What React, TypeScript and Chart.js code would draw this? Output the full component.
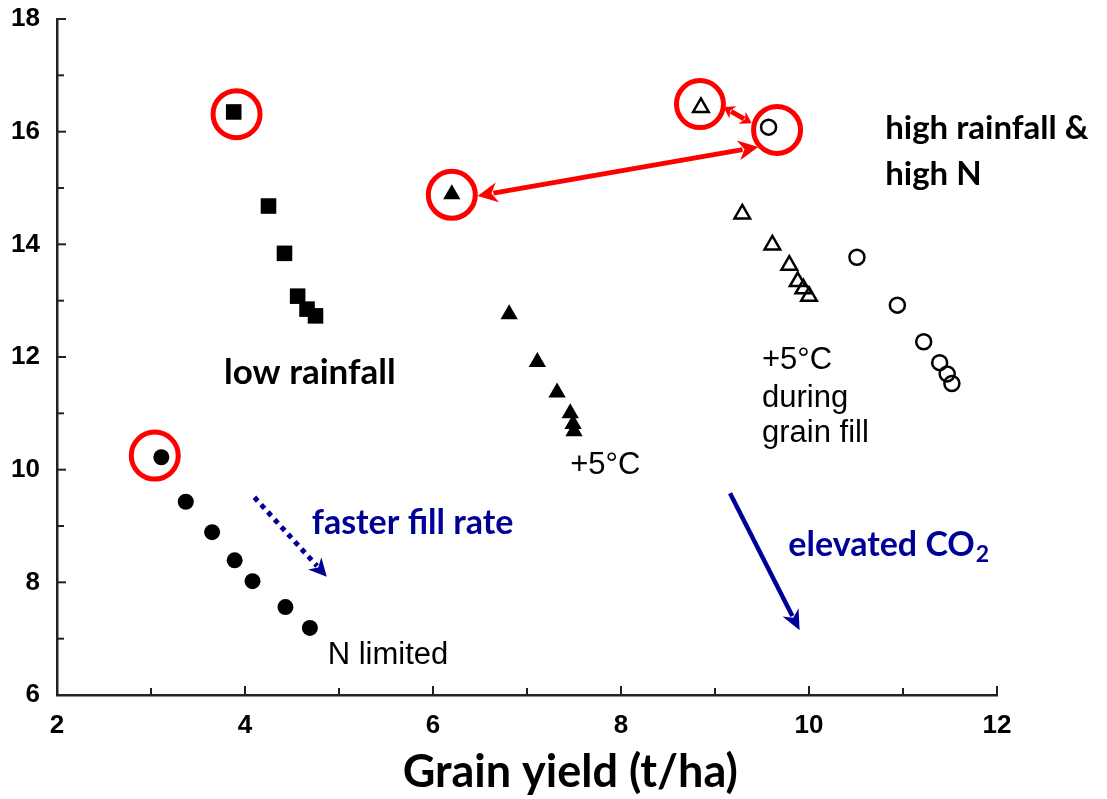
import React, { useEffect, useRef } from "react";
import { Chart, registerables } from "chart.js";

Chart.register(...registerables);

// ---- data (grain yield t/ha vs grain protein/N %) ----
const lowRainX = [3.88, 4.25, 4.42, 4.56, 4.66, 4.75];
const lowRainY = [16.35, 14.68, 13.84, 13.08, 12.85, 12.73];

const nLimitedX = [3.11, 3.37, 3.65, 3.89, 4.08, 4.43, 4.69];
const nLimitedY = [10.22, 9.43, 8.89, 8.39, 8.02, 7.56, 7.19];

const warmX = [6.2, 6.81, 7.11, 7.32, 7.46, 7.49, 7.5];
const warmY = [14.89, 12.76, 11.91, 11.37, 11.0, 10.81, 10.68];

const grainFillX = [8.85, 9.29, 9.61, 9.79, 9.88, 9.94, 10.0];
const grainFillY = [16.43, 14.54, 13.99, 13.63, 13.34, 13.21, 13.08];

const highRainX = [9.57, 10.51, 10.94, 11.22, 11.39, 11.47, 11.52];
const highRainY = [16.08, 13.77, 12.92, 12.27, 11.9, 11.7, 11.53];

const highlightX = [3.91, 3.04, 6.2, 8.84, 9.66];
const highlightY = [16.31, 10.25, 14.88, 16.49, 16.03];

const xTickValues = [2, 4, 6, 8, 10, 12];
const yTickValues = [6, 8, 10, 12, 14, 16, 18];

const xTitle = "Grain yield (t/ha)";

// annotation arrows in data coordinates: [x1, y1, x2, y2]
const redLongArrow = [6.475, 14.86, 9.46, 15.73];
const redShortArrow = [9.09, 16.44, 9.39, 16.15];
const blueDottedArrow = [4.1, 9.51, 4.87, 8.1];
const blueSolidArrow = [9.16, 9.58, 9.9, 7.15];

const toPts = (xs: number[], ys: number[]) => xs.map((x, i) => ({ x, y: ys[i] }));

function drawArrow(
  ctx: CanvasRenderingContext2D,
  x1: number, y1: number, x2: number, y2: number,
  color: string, width: number, headLen: number, headHalf: number,
  both: boolean, dash: number[] | null
) {
  const ang = Math.atan2(y2 - y1, x2 - x1);
  const cos = Math.cos(ang), sin = Math.sin(ang);
  const sx = both ? x1 + cos * headLen * 0.8 : x1;
  const sy = both ? y1 + sin * headLen * 0.8 : y1;
  const ex = x2 - cos * headLen * 0.8;
  const ey = y2 - sin * headLen * 0.8;
  ctx.save();
  ctx.strokeStyle = color;
  ctx.fillStyle = color;
  ctx.lineWidth = width;
  ctx.lineCap = "butt";
  if (dash) ctx.setLineDash(dash);
  ctx.beginPath();
  ctx.moveTo(sx, sy);
  ctx.lineTo(ex, ey);
  ctx.stroke();
  ctx.setLineDash([]);
  const head = (tx: number, ty: number, dx: number, dy: number) => {
    ctx.beginPath();
    ctx.moveTo(tx, ty);
    ctx.lineTo(tx - dx * headLen - dy * headHalf, ty - dy * headLen + dx * headHalf);
    ctx.lineTo(tx - dx * headLen * 0.7, ty - dy * headLen * 0.7);
    ctx.lineTo(tx - dx * headLen + dy * headHalf, ty - dy * headLen - dx * headHalf);
    ctx.closePath();
    ctx.fill();
  };
  head(x2, y2, cos, sin);
  if (both) head(x1, y1, -cos, -sin);
  ctx.restore();
}

const annotationPlugin = {
  id: "annotations",
  afterDatasetsDraw(chart: any) {
    const ctx: CanvasRenderingContext2D = chart.ctx;
    const xs = chart.scales.x;
    const ys = chart.scales.y;
    const px = (v: number) => xs.getPixelForValue(v);
    const py = (v: number) => ys.getPixelForValue(v);

    // inward tick marks
    ctx.save();
    ctx.strokeStyle = "#222";
    ctx.lineWidth = 2;
    const x0 = px(2);
    const yb = py(6);
    for (let v = 2; v <= 12; v++) {
      const len = v % 2 === 0 ? 9 : 7;
      ctx.beginPath();
      ctx.moveTo(px(v), yb);
      ctx.lineTo(px(v), yb - len);
      ctx.stroke();
    }
    for (let v = 6; v <= 18; v++) {
      const len = v % 2 === 0 ? 9 : 7;
      ctx.beginPath();
      ctx.moveTo(x0, py(v));
      ctx.lineTo(x0 + len, py(v));
      ctx.stroke();
    }
    ctx.restore();

    // arrows
    const a = (arr: number[]) => [px(arr[0]), py(arr[1]), px(arr[2]), py(arr[3])];
    const [r1, r2, r3, r4] = a(redLongArrow);
    drawArrow(ctx, r1, r2, r3, r4, "#ff0000", 5, 20, 10, true, null);
    const [s1, s2, s3, s4] = a(redShortArrow);
    drawArrow(ctx, s1, s2, s3, s4, "#ff0000", 5, 11, 7, true, null);
    const [b1, b2, b3, b4] = a(blueDottedArrow);
    drawArrow(ctx, b1, b2, b3, b4, "#000096", 5, 18, 9, false, [5, 5]);
    const [c1, c2, c3, c4] = a(blueSolidArrow);
    drawArrow(ctx, c1, c2, c3, c4, "#000096", 4.5, 20, 9, false, null);

    // texts
    ctx.save();
    ctx.textBaseline = "middle";
    ctx.textAlign = "left";
    ctx.fillStyle = "#000";
    const bold = (s: number) => `bold ${s}px Lato, "Open Sans", sans-serif`;
    const arial = (s: number) => `${s}px "Liberation Sans", Arial, sans-serif`;

    ctx.font = bold(35);
    ctx.fillText("low rainfall", px(3.777), py(11.72));
    ctx.font = bold(33);
    ctx.fillText("high rainfall &", px(10.81), py(16.05));
    ctx.fillText("high N", px(10.81), py(15.25));

    ctx.font = arial(31);
    ctx.fillText("+5°C", px(7.46), py(10.08));
    ctx.fillText("+5°C", px(9.5), py(11.94));
    ctx.fillText("during", px(9.5), py(11.27));
    ctx.fillText("grain fill", px(9.5), py(10.64));
    ctx.fillText("N limited", px(4.88), py(6.7));

    ctx.fillStyle = "#000096";
    ctx.font = bold(34);
    ctx.fillText("faster fill rate", px(4.71), py(9.06));
    const ex = px(9.78);
    const ey = py(8.67);
    ctx.font = bold(34);
    ctx.fillText("elevated CO", ex, ey);
    const w = ctx.measureText("elevated CO").width;
    ctx.font = bold(23);
    ctx.fillText("2", ex + w + 1, ey + 10);

    // axis title
    ctx.fillStyle = "#000";
    ctx.textAlign = "center";
    ctx.font = bold(45);
    ctx.fillText(xTitle, px(7.46), 772);
    ctx.restore();
  },
};

export default function App() {
  const ref = useRef<HTMLCanvasElement | null>(null);

  useEffect(() => {
    if (!ref.current) return;
    const tickFont = { family: '"Liberation Sans", Arial, sans-serif', size: 26, weight: "bold" as const };
    const chart = new Chart(ref.current, {
      type: "scatter",
      data: {
        datasets: [
          {
            label: "low rainfall",
            data: toPts(lowRainX, lowRainY),
            pointStyle: "rect",
            pointRadius: 11,
            backgroundColor: "#000",
            borderColor: "#000",
            borderWidth: 0,
          },
          {
            label: "N limited",
            data: toPts(nLimitedX, nLimitedY),
            pointStyle: "circle",
            pointRadius: 8,
            backgroundColor: "#000",
            borderColor: "#000",
            borderWidth: 0,
          },
          {
            label: "+5°C",
            data: toPts(warmX, warmY),
            pointStyle: "triangle",
            pointRadius: 10,
            backgroundColor: "#000",
            borderColor: "#000",
            borderWidth: 0,
          },
          {
            label: "+5°C during grain fill",
            data: toPts(grainFillX, grainFillY),
            pointStyle: "triangle",
            pointRadius: 9,
            backgroundColor: "rgba(0,0,0,0)",
            borderColor: "#000",
            borderWidth: 2.5,
          },
          {
            label: "high rainfall & high N",
            data: toPts(highRainX, highRainY),
            pointStyle: "circle",
            pointRadius: 7.5,
            backgroundColor: "rgba(0,0,0,0)",
            borderColor: "#000",
            borderWidth: 2.5,
          },
          {
            label: "highlight",
            data: toPts(highlightX, highlightY),
            pointStyle: "circle",
            pointRadius: 23.5,
            backgroundColor: "rgba(0,0,0,0)",
            borderColor: "#ff0000",
            borderWidth: 5,
          },
        ],
      },
      options: {
        responsive: false,
        animation: false,
        devicePixelRatio: 1,
        layout: { autoPadding: false, padding: { left: 0, top: 19, right: 110, bottom: 0 } },
        plugins: {
          legend: { display: false },
          tooltip: { enabled: false },
        },
        scales: {
          x: {
            type: "linear",
            min: 2,
            max: 12,
            afterFit: (s: any) => {
              s.height = 104;
              s.paddingLeft = 0;
              s.paddingRight = 0;
            },
            afterBuildTicks: (s: any) => {
              s.ticks = xTickValues.map((v) => ({ value: v }));
            },
            ticks: { font: tickFont, color: "#000", padding: 7 },
            grid: { display: false },
            border: { display: true, color: "#222", width: 2.5 },
          },
          y: {
            type: "linear",
            min: 6,
            max: 18,
            afterFit: (s: any) => {
              s.width = 57;
              s.paddingTop = 0;
              s.paddingBottom = 0;
            },
            afterBuildTicks: (s: any) => {
              s.ticks = yTickValues.map((v) => ({ value: v }));
            },
            ticks: { font: tickFont, color: "#000", padding: 9 },
            grid: { display: false },
            border: { display: true, color: "#222", width: 2.5 },
          },
        },
      },
      plugins: [annotationPlugin],
    });
    return () => chart.destroy();
  }, []);

  return (
    <div style={{ position: "absolute", left: 0, top: 0, width: 1107, height: 799, background: "#fff" }}>
      <canvas ref={ref} width={1107} height={799} />
    </div>
  );
}
